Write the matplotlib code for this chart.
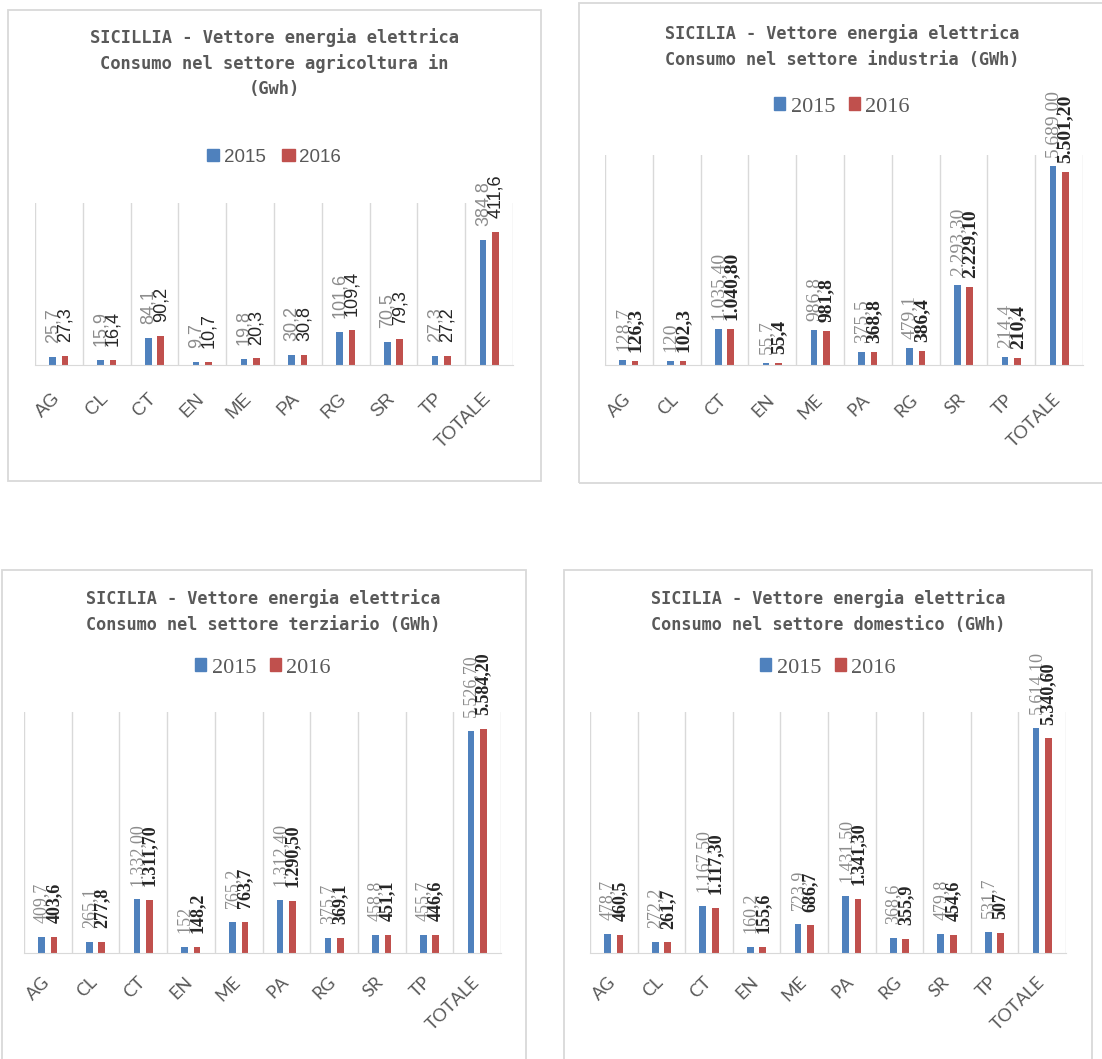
import numpy as np
import matplotlib
matplotlib.use("Agg")
import matplotlib.pyplot as plt
from matplotlib.patches import Rectangle, Patch
from matplotlib.transforms import ScaledTranslation

W, H = 1102, 1059

categories = ["AG", "CL", "CT", "EN", "ME", "PA", "RG", "SR", "TP", "TOTALE"]
years = ["2015", "2016"]

agri_2015 = [25.7, 15.9, 84.1, 9.7, 19.8, 30.2, 101.6, 70.5, 27.3, 384.8]
agri_2016 = [27.3, 16.4, 90.2, 10.7, 20.3, 30.8, 109.4, 79.3, 27.2, 411.6]

ind_2015 = [128.7, 120, 1035.40, 55.7, 986.8, 375.5, 479.1, 2293.30, 214.4, 5689.00]
ind_2016 = [126.3, 102.3, 1040.80, 55.4, 981.8, 368.8, 386.4, 2229.10, 210.4, 5501.20]

ter_2015 = [409.7, 265.1, 1332.00, 152, 765.2, 1312.40, 375.7, 458.8, 455.7, 5526.70]
ter_2016 = [403.6, 277.8, 1311.70, 148.2, 763.7, 1290.50, 369.1, 451.1, 446.6, 5584.20]

dom_2015 = [478.7, 272.2, 1167.50, 160.2, 723.9, 1431.50, 368.6, 479.8, 531.7, 5614.10]
dom_2016 = [460.5, 261.7, 1117.30, 155.6, 686.7, 1341.30, 355.9, 454.6, 507, 5340.60]

titles = [
    "SICILLIA - Vettore energia elettrica\nConsumo nel settore agricoltura in\n(Gwh)",
    "SICILIA - Vettore energia elettrica\nConsumo nel settore industria (GWh)",
    "SICILIA - Vettore energia elettrica\nConsumo nel settore terziario (GWh)",
    "SICILIA - Vettore energia elettrica\nConsumo nel settore domestico (GWh)",
]

BLUE = "#4F81BD"
RED = "#C0504D"
GRID = "#d9d9d9"
TXT = "#595959"


def fmt(v):
    # italian style numbers, as the labels in the picture
    if v >= 1000:
        s = f"{v:,.2f}"
        return s.replace(",", "X").replace(".", ",").replace("X", ".")
    if v == int(v):
        return str(int(v))
    return f"{v:.1f}".replace(".", ",")


def fx(x):
    return x / W


def fy(y):
    return 1 - y / H


fig = plt.figure(figsize=(W / 100, H / 100), dpi=100)

# panel frames (pixels: x0, y0, x1, y1)
frames = [(8, 10, 541, 481), (579, 3, 1105, 483), (2, 570, 526, 1065), (564, 570, 1092, 1065)]
for x0, y0, x1, y1 in frames:
    fig.patches.append(Rectangle((fx(x0), fy(y1)), fx(x1 - x0), (y1 - y0) / H,
                                 transform=fig.transFigure, fill=False,
                                 edgecolor=GRID, lw=1.3))


def draw_panel(box, v15, v16, ymax, title, title_xy, legend_y, tick_font, lab_font,
               lab_size, lab_off, tick_size, tick_pad, title_size, linesp,
               leg_font, leg_size, hsize, colsp, bold16):
    x0, y0, x1, y1 = box
    ax = fig.add_axes([fx(x0), fy(y1), fx(x1 - x0), (y1 - y0) / H])
    x = np.arange(len(categories))
    ax.bar(x - 0.13, v15, width=0.14, color=BLUE, label=years[0])
    ax.bar(x + 0.13, v16, width=0.14, color=RED, label=years[1])
    ax.set_xlim(-0.5, len(categories) - 0.5)
    ax.set_ylim(0, ymax)
    for k in range(len(categories) + 1):
        ax.axvline(k - 0.5, color=GRID, lw=1, zorder=0)
    for s in ["top", "left", "right"]:
        ax.spines[s].set_visible(False)
    ax.spines["bottom"].set_color(GRID)
    ax.set_yticks([])
    ax.set_xticks(x)
    ax.set_xticklabels(categories, rotation=45, ha="right", va="top",
                       fontsize=tick_size, color=TXT, family=tick_font)
    ax.tick_params(axis="x", length=0, pad=tick_pad)
    shift = ScaledTranslation(5 / 100, 0, fig.dpi_scale_trans)
    for t in ax.get_xticklabels():
        t.set_transform(t.get_transform() + shift)

    for xi, a, b in zip(x, v15, v16):
        ax.annotate(fmt(a), (xi - 0.13, a), xytext=(0, lab_off), textcoords="offset points",
                    rotation=90, ha="center", va="bottom", fontsize=lab_size,
                    color="#8c8c8c", family=lab_font)
        ax.annotate(fmt(b), (xi + 0.13, b), xytext=(0, lab_off), textcoords="offset points",
                    rotation=90, ha="center", va="bottom", fontsize=lab_size,
                    color="#262626", family=lab_font,
                    fontweight="bold" if bold16 else "normal")

    # spaced-out look of the original titles
    fig.text(fx(title_xy[0]), fy(title_xy[1]), title, ha="center", va="center",
             fontsize=title_size, fontweight="bold", color=TXT, family="DejaVu Sans Mono",
             linespacing=linesp)
    handles = [Patch(color=BLUE, label=years[0]), Patch(color=RED, label=years[1])]
    fig.legend(handles=handles, loc="center", ncol=2, frameon=False,
               bbox_to_anchor=(fx(title_xy[0]), fy(legend_y)),
               prop={"family": leg_font, "size": leg_size}, labelcolor=TXT,
               handlelength=hsize, handleheight=hsize, handletextpad=0.25,
               columnspacing=colsp)
    return ax


draw_panel((35, 203, 513, 365), agri_2015, agri_2016, 500, titles[0], (274, 63), 157,
           "Liberation Sans", "Liberation Sans", 13, 10, 13.5, 18,
           12.3, 1.45, "Liberation Sans", 13.5, 0.65, 0.9, False)
draw_panel((605, 155, 1083, 365), ind_2015, ind_2016, 6000, titles[1], (842, 46.5), 107,
           "Lato", "Liberation Serif", 14, 6.5, 13, 19,
           12.2, 1.55, "Liberation Serif", 16, 0.5, 0.6, True)
draw_panel((24, 712, 501, 953), ter_2015, ter_2016, 6000, titles[2], (263, 611.5), 668,
           "Lato", "Liberation Serif", 13, 10, 13, 15,
           12.2, 1.55, "Liberation Serif", 16, 0.5, 0.6, True)
draw_panel((590, 712, 1066, 953), dom_2015, dom_2016, 6000, titles[3], (828, 611.5), 668,
           "Lato", "Liberation Serif", 13, 10, 13, 15,
           12.2, 1.55, "Liberation Serif", 16, 0.5, 0.6, True)

fig.savefig("out.png", dpi=100)
